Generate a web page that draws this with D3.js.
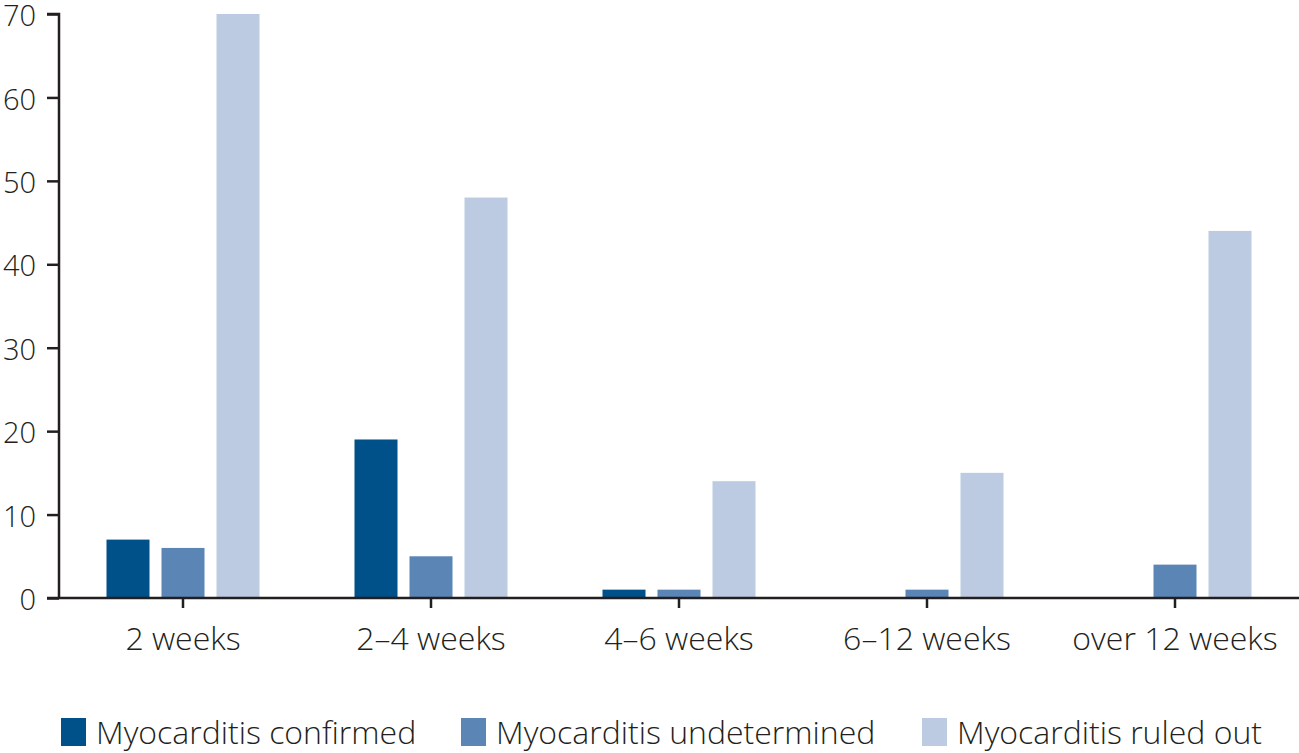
<!DOCTYPE html>
<html><head><meta charset="utf-8">
<script src="https://cdn.jsdelivr.net/npm/d3@7"></script>
<style>
body{margin:0;background:#fff;}
svg text{font-family:"Open Sans","Liberation Sans",sans-serif;font-weight:300;fill:#231f20;}
</style></head>
<body><svg id="c" width="1299" height="753"></svg>
<script>
const categories = ["2 weeks","2\u20134 weeks","4\u20136 weeks","6\u201312 weeks","over 12 weeks"];
const seriesNames = ["Myocarditis confirmed","Myocarditis undetermined","Myocarditis ruled out"];
const confirmed = [7,19,1,0,0];
const undetermined = [6,5,1,1,4];
const ruledOut = [70,48,14,15,44];
const yTicks = [0,10,20,30,40,50,60,70];
const colors = ["#00508a","#5a85b5","#bccbe2"];

const svg = d3.select("#c");
const x0 = 59, x1 = 1299, yTop = 14, yBot = 598;
const x = d3.scaleBand().domain(categories).range([x0,x1]);
const y = d3.scaleLinear().domain([0,70]).range([yBot,yTop]);
const series = [confirmed, undetermined, ruledOut];
const inner = d3.scaleBand().domain([0,1,2]).range([x.bandwidth()/2-76.5, x.bandwidth()/2+76.5]).paddingInner(12/55).paddingOuter(0);

series.forEach((vals,si)=>{
  svg.append("g").selectAll("rect").data(vals).join("rect")
    .attr("x",(d,i)=>x(categories[i])+inner(si))
    .attr("width",inner.bandwidth())
    .attr("y",d=>y(d))
    .attr("height",d=>yBot-y(d))
    .attr("fill",colors[si]);
});

const gy = svg.append("g").attr("transform",`translate(${x0},0)`)
  .call(d3.axisLeft(y).tickValues(yTicks).tickSize(12).tickPadding(11));
gy.select(".domain").attr("d",`M-12,${yTop}H0V${yBot}`);
const gx = svg.append("g").attr("transform",`translate(0,${yBot})`)
  .call(d3.axisBottom(x).tickSize(10).tickPadding(19));
gx.select(".domain").attr("d",`M${x0-12},0H${x1}`);
[gx,gy].forEach(g=>{
  g.selectAll("path,line").attr("stroke","#231f20").attr("stroke-width",2.5);
  g.selectAll("text").attr("font-family",null).attr("fill","#231f20");
});
gx.selectAll("text").attr("font-size",32);
gy.selectAll("text").attr("font-size",29).attr("dy","0.4em");

const legX = [61,461,922];
const lg = svg.append("g");
seriesNames.forEach((n,i)=>{
  lg.append("rect").attr("x",legX[i]).attr("y",718).attr("width",25).attr("height",28).attr("fill",colors[i]);
  lg.append("text").attr("x",legX[i]+35).attr("y",744).attr("font-size",32).text(n);
});
</script></body></html>
